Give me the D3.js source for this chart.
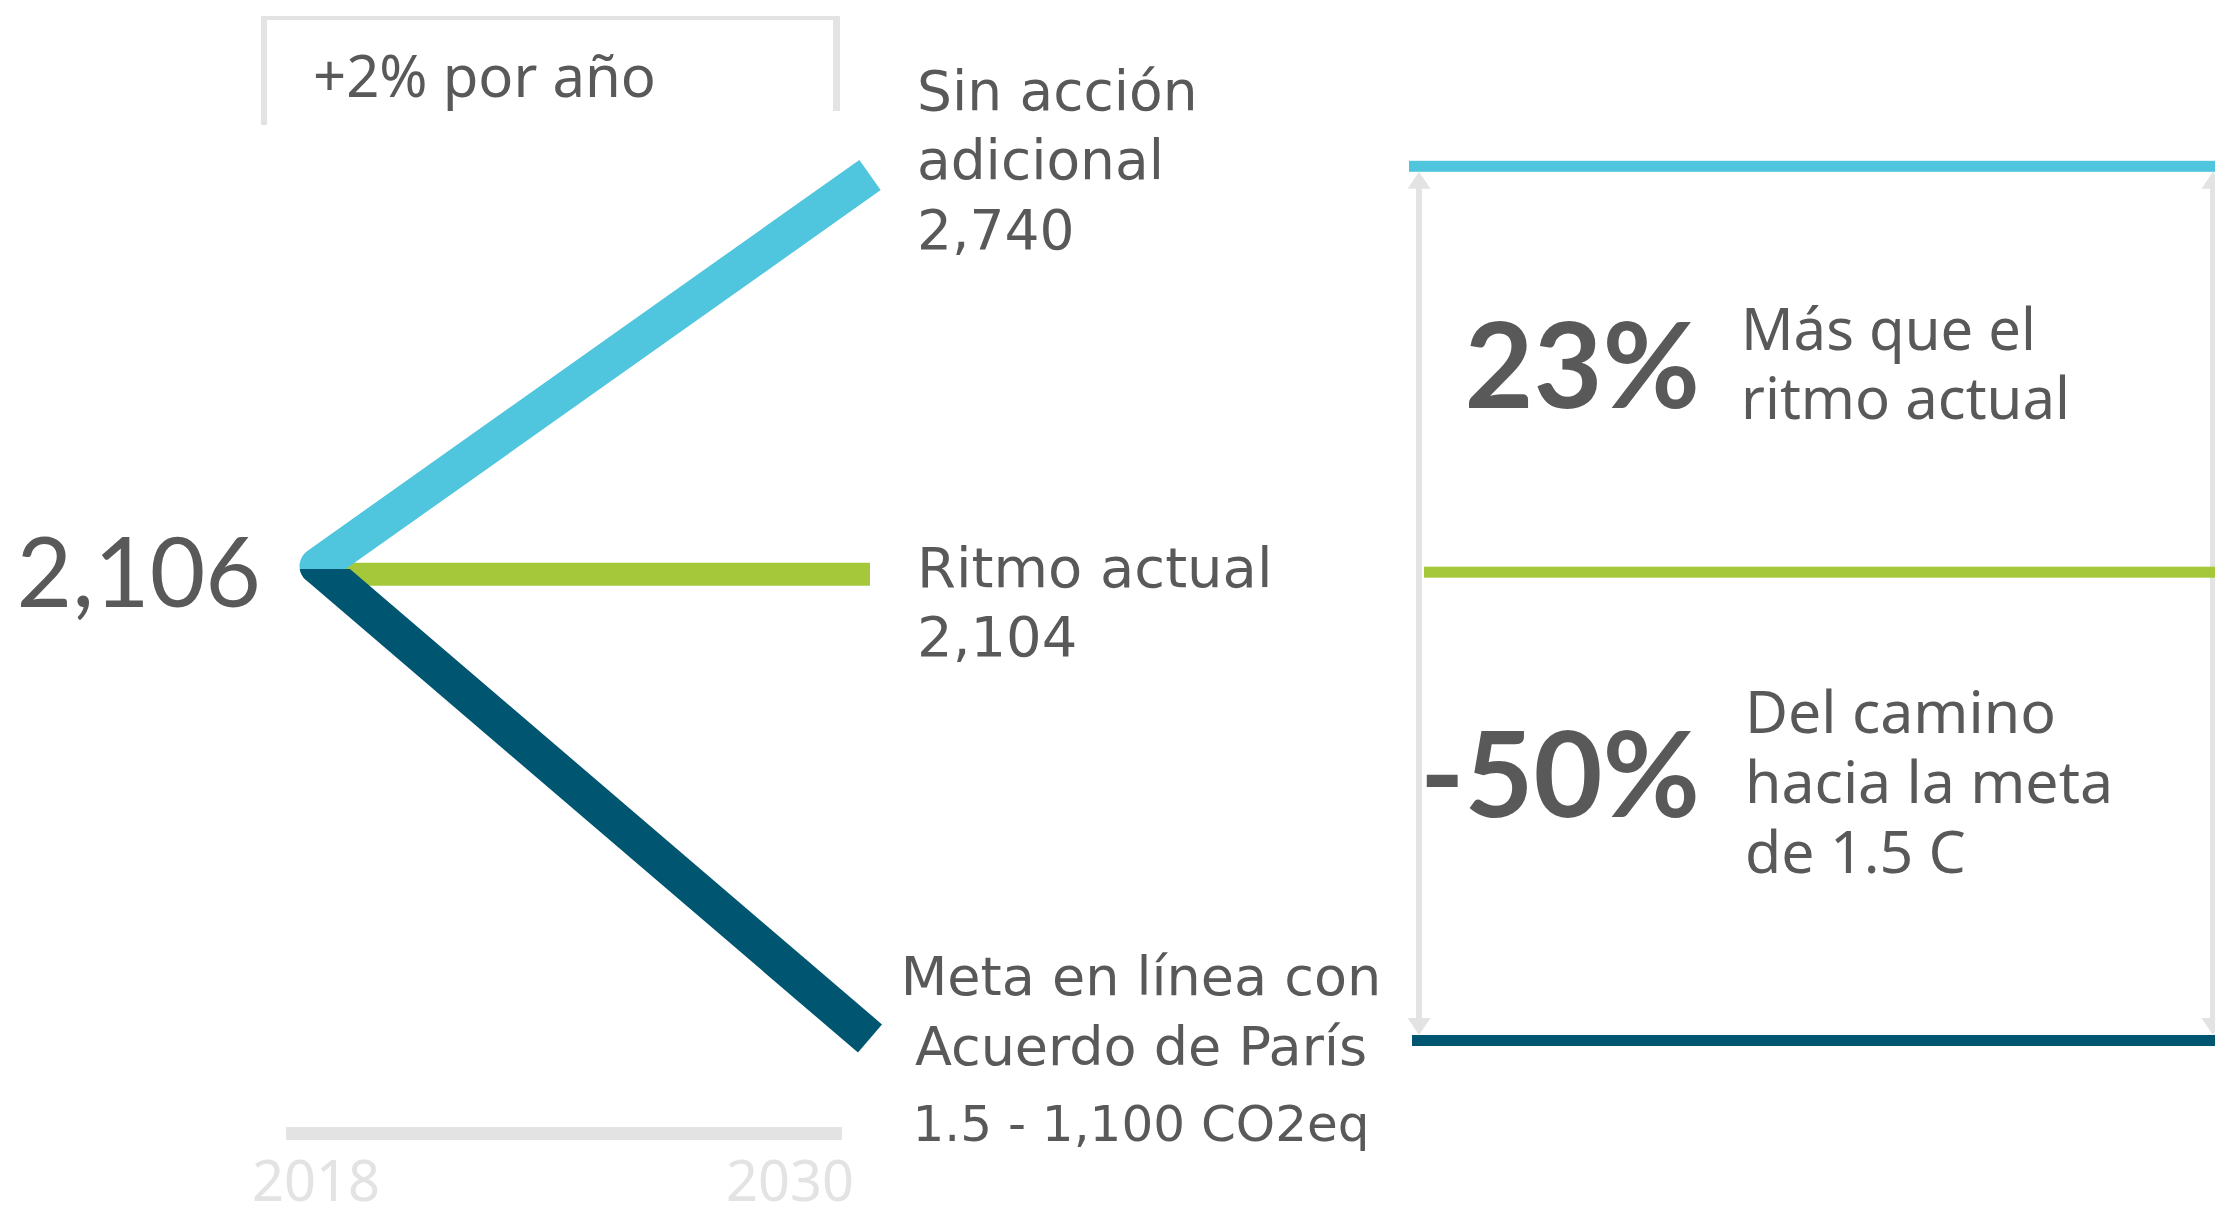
<!DOCTYPE html>
<html>
<head>
<meta charset="utf-8">
<script src="https://cdn.jsdelivr.net/npm/d3@7"></script>
<style>
  body { margin: 0; background: #fff; }
  svg { display: block; }
</style>
</head>
<body>
<div id="chart"></div>
<script>
// data
const years = [2018, 2030];
const startValue = 2106;
const scenarioNames = ['Sin acción adicional', 'Ritmo actual', 'Meta en línea con Acuerdo de París'];
const endValues = [2740, 2104, 1100];
const scenarioColors = ['#4fc5de', '#a5c83a', '#005670'];
const scenarioLabels = [
  ['Sin acción', 'adicional'],
  ['Ritmo actual'],
  ['Meta en línea con', 'Acuerdo de París', '1.5 - ']
];
const scenarioUnits = ['', '', ' CO2eq'];
const growthNote = '+2% por año';
const pctValues = [23, -50];
const pctNotes = [['Más que el', 'ritmo actual'], ['Del camino', 'hacia la meta', 'de 1.5 C']];

const width = 2215;
const height = 1206;
const textColor = '#595959';
const lightGray = '#e3e3e3';
const labelFont = '"DejaVu Sans", sans-serif';
const noteFont = '"Noto Sans", sans-serif';
const numberFont = 'Lato, sans-serif';

const svg = d3.select('#chart').append('svg')
  .attr('width', width)
  .attr('height', height);

const x = d3.scaleLinear().domain(d3.extent(years)).range([318, 870]);
// schematic y: values are placed on a piecewise scale
const y = d3.scaleLinear().domain([1100, 2104, 2106, 2740]).range([1038.5, 574.2, 566, 175]);
const yPanel = d3.scaleLinear().domain([1100, 2104, 2740]).range([1040.5, 572.2, 166.3]);
const xAxis = d3.scaleLinear().domain(d3.extent(years)).range([316, 790]);

const fmt = d3.format(',');

// growth note bracket
const box = svg.append('g').attr('fill', lightGray);
box.append('rect').attr('x', 261).attr('y', 16).attr('width', 6).attr('height', 109);
box.append('rect').attr('x', 261).attr('y', 16).attr('width', 579).attr('height', 4);
box.append('rect').attr('x', 833).attr('y', 16).attr('width', 7).attr('height', 95);
svg.append('text')
  .attr('x', 313).attr('y', 97)
  .attr('font-family', noteFont).attr('font-size', 58)
  .attr('fill', textColor)
  .text(growthNote);

// start value
svg.append('text')
  .attr('x', 261).attr('y', 607)
  .attr('text-anchor', 'end')
  .attr('font-family', numberFont).attr('font-size', 96)
  .attr('fill', textColor)
  .text(fmt(startValue));

// scenario lines
const line = d3.line().x(d => x(d.year)).y(d => y(d.value));
const series = scenarioNames.map((name, i) => ({
  name,
  color: scenarioColors[i],
  points: [{ year: years[0], value: i === 1 ? endValues[i] : startValue }, { year: years[1], value: endValues[i] }]
}));

svg.append('clipPath').attr('id', 'below')
  .append('rect')
  .attr('x', 0).attr('y', y(startValue) + 3)
  .attr('width', width).attr('height', height);

// green behind, then blue, then dark
[1, 0, 2].forEach(i => {
  const s = series[i];
  svg.append('path')
    .attr('d', line(s.points))
    .attr('fill', 'none')
    .attr('stroke', s.color)
    .attr('stroke-width', i === 1 ? 23 : 37)
    .attr('stroke-linecap', i === 1 ? 'butt' : 'round')
    .attr('clip-path', i === 2 ? 'url(#below)' : null);
});
// butt ends at 2030 for the thick lines
[0, 2].forEach(i => {
  const x0 = x(years[0]), y0 = y(startValue);
  const x1 = x(years[1]), y1 = y(endValues[i]);
  const angle = Math.atan2(y1 - y0, x1 - x0) * 180 / Math.PI;
  svg.append('rect')
    .attr('x', x1).attr('y', y1 - 30)
    .attr('width', 30).attr('height', 60)
    .attr('fill', '#fff')
    .attr('transform', `rotate(${angle},${x1},${y1})`);
});

// scenario labels
const labelBaselines = [[110, 179, 249], [587, 656], [995, 1065, 1141]];
const labelSizes = [[55, 55, 55], [56, 56], [54, 54, 50]];
series.forEach((s, i) => {
  const lines = scenarioLabels[i].slice();
  if (i === 2) {
    lines[2] = lines[2] + fmt(endValues[i]) + scenarioUnits[i];
  } else {
    lines.push(fmt(endValues[i]));
  }
  const centered = i === 2;
  const t = svg.append('text')
    .attr('font-family', labelFont)
    .attr('fill', textColor)
    .attr('text-anchor', centered ? 'middle' : 'start');
  lines.forEach((l, j) => {
    t.append('tspan')
      .attr('x', centered ? 1141 : 917)
      .attr('y', labelBaselines[i][j])
      .attr('font-size', labelSizes[i][j])
      .text(l);
  });
});

// bottom axis
svg.append('rect')
  .attr('x', 286).attr('y', 1127)
  .attr('width', 556).attr('height', 13)
  .attr('fill', lightGray);
svg.selectAll('.year')
  .data(years)
  .join('text')
  .attr('class', 'year')
  .attr('x', d => xAxis(d))
  .attr('y', 1201)
  .attr('text-anchor', 'middle')
  .attr('font-family', noteFont).attr('font-size', 56)
  .attr('fill', lightGray)
  .text(d => d);

// comparison panel
const panelStart = [1409, 1424, 1412];
const arrowTop = yPanel(endValues[0]) + 5.5;
const arrowBottom = yPanel(endValues[2]) - 5.5;
[1419, 2213].forEach(ax => {
  const g = svg.append('g').attr('fill', lightGray);
  g.append('rect')
    .attr('x', ax - 3).attr('y', arrowTop + 10)
    .attr('width', 6).attr('height', arrowBottom - arrowTop - 20);
  g.append('path').attr('d', `M${ax},${arrowTop}L${ax - 11.5},${arrowTop + 17}L${ax + 11.5},${arrowTop + 17}Z`);
  g.append('path').attr('d', `M${ax},${arrowBottom}L${ax - 11.5},${arrowBottom - 17}L${ax + 11.5},${arrowBottom - 17}Z`);
});
series.forEach((s, i) => {
  svg.append('rect')
    .attr('x', panelStart[i])
    .attr('y', yPanel(endValues[i]) - 5.5)
    .attr('width', width - panelStart[i])
    .attr('height', 11)
    .attr('fill', s.color);
});

const pctBaselines = [408, 817];
const noteBaselines = [[350, 419], [733, 803, 873]];
const noteX = [1741, 1745];
const noteSizes = [58, 59];
pctValues.forEach((v, i) => {
  svg.append('text')
    .attr('x', 1700).attr('y', pctBaselines[i])
    .attr('text-anchor', 'end')
    .attr('font-family', numberFont).attr('font-weight', 700)
    .attr('font-size', 119)
    .attr('fill', textColor)
    .text(v + '%');
  const t = svg.append('text')
    .attr('font-family', noteFont).attr('font-size', noteSizes[i])
    .attr('fill', textColor);
  pctNotes[i].forEach((l, j) => {
    t.append('tspan').attr('x', noteX[i]).attr('y', noteBaselines[i][j]).text(l);
  });
});
</script>
</body>
</html>
